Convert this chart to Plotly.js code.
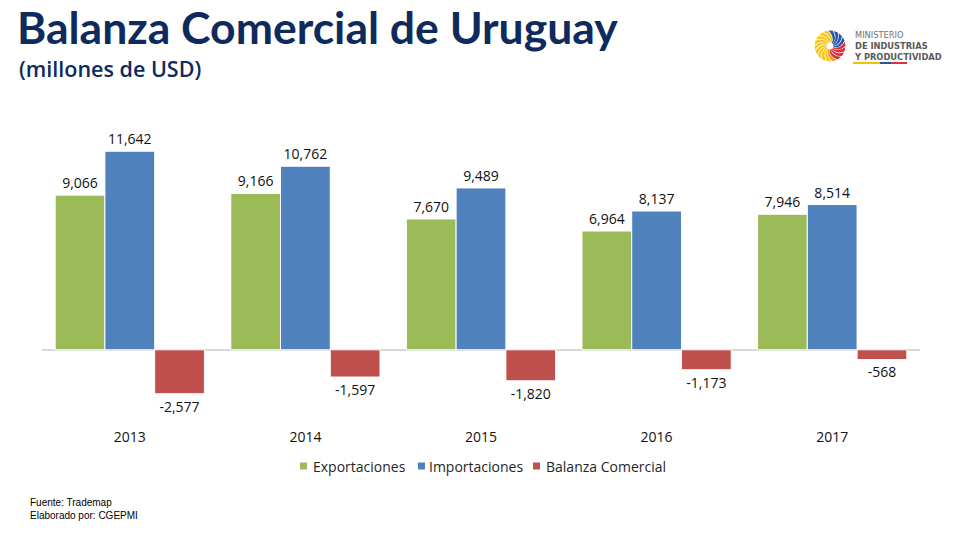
<!DOCTYPE html>
<html>
<head>
<meta charset="utf-8">
<script src="https://cdn.plot.ly/plotly-3.0.1.min.js"></script>
<style>html,body{margin:0;padding:0;background:#fff;}#chart{width:960px;height:540px;}</style>
</head>
<body>
<div id="chart"></div>
<script>
const years = ['2013', '2014', '2015', '2016', '2017'];
const exportaciones = [9066, 9166, 7670, 6964, 7946];
const importaciones = [11642, 10762, 9489, 8137, 8514];
const balanza = [-2577, -1597, -1820, -1173, -568];
const seriesNames = ['Exportaciones', 'Importaciones', 'Balanza Comercial'];
const seriesColors = ['#9bbb59', '#4f81bd', '#c0504d'];

const W = 960, H = 540;
const L = 42, R = 920, T = 111, B = 418;
const px = x => (x - L) / (R - L);
const py = y => (B - y) / (B - T);

const fmt = v => v.toLocaleString('en-US');
const labelFont = {family: 'Open Sans', size: 14, color: '#111111'};

function barTrace(vals, i) {
  return {
    type: 'bar', x: years, y: vals, name: seriesNames[i],
    marker: {color: seriesColors[i], line: {color: '#ffffff', width: 1}},
    text: vals.map(fmt), textposition: 'outside', textfont: labelFont,
    cliponaxis: false, constraintext: 'none', hoverinfo: 'skip', showlegend: false
  };
}
const data = [barTrace(exportaciones, 0), barTrace(importaciones, 1), barTrace(balanza, 2)];

const shapes = [];
const annotations = [];

// legend (compact, as in the reference)
const legendSquareX = [300, 418, 533];
const legendTextX = [311, 427, 544];
seriesNames.forEach((name, i) => {
  shapes.push({type: 'rect', xref: 'paper', yref: 'paper', x0: px(legendSquareX[i]), x1: px(legendSquareX[i] + 7),
    y0: py(469.5), y1: py(462.5), fillcolor: seriesColors[i], line: {width: 0}});
  annotations.push({text: name, xref: 'paper', yref: 'paper', x: px(legendTextX[i]), y: py(466),
    xanchor: 'left', yanchor: 'middle', showarrow: false,
    font: {family: 'Open Sans', size: 14, color: '#262626'}});
});

// logo emblem (pinwheel) built from pixel geometry
const cx = 830, cy = 46, r0 = 3.5, R0 = 15.5, n = 18;
function petalColor(deg) {
  const d = ((deg % 360) + 360) % 360;
  if (d >= 5 && d < 85) return '#2b54a6';
  if (d >= 290 || d < 5) return '#d8323a';
  if (d >= 255 && d < 290) return '#f0a020';
  return '#f7c81e';
}
for (let i = 0; i < n; i++) {
  const a = i * 360 / n;
  const step = 360 / n;
  const rad = d => d * Math.PI / 180;
  const p = (r, d) => [cx + r * Math.cos(rad(d)), cy - r * Math.sin(rad(d))];
  const p1 = p(r0, a), p2 = p(R0, a + 40), p3 = p(R0, a + 40 + step * 0.8), p4 = p(r0, a + step * 0.8);
  const c1 = p(R0 * 0.7, a + 8), c2 = p(R0 * 0.7, a + 8 + step * 0.8);
  const P = q => px(q[0]).toFixed(5) + ',' + py(q[1]).toFixed(5);
  shapes.push({
    type: 'path', xref: 'paper', yref: 'paper', layer: 'above',
    path: 'M' + P(p1) + ' Q' + P(c1) + ' ' + P(p2) + ' L' + P(p3) + ' Q' + P(c2) + ' ' + P(p4) + ' Z',
    fillcolor: petalColor(a + 30), line: {width: 0}
  });
}
// logo underline
[['#f2c200', 853, 880], ['#2b54a6', 880, 891], ['#d8323a', 891, 907]].forEach(s => {
  shapes.push({type: 'rect', xref: 'paper', yref: 'paper', x0: px(s[1]), x1: px(s[2]),
    y0: py(64), y1: py(62), fillcolor: s[0], line: {width: 0}});
});

annotations.push(
  {text: '(millones de USD)', xref: 'paper', yref: 'paper', x: px(17), y: py(69), xanchor: 'left', yanchor: 'middle',
   showarrow: false, font: {family: 'Open Sans', size: 21.5, weight: 600, color: '#0f2a5c'}},
  {text: '<span style="color:#707070">MINISTERIO</span><br><b>DE INDUSTRIAS</b><br><b>Y PRODUCTIVIDAD</b>',
   xref: 'paper', yref: 'paper', x: px(852), y: py(46), xanchor: 'left', yanchor: 'middle', align: 'left',
   showarrow: false, font: {family: 'DejaVu Sans', size: 8.3, color: '#5a5a5a'}},
  {text: 'Fuente: Trademap<br>Elaborado por: CGEPMI', xref: 'paper', yref: 'paper', x: px(28), y: py(508.5),
   xanchor: 'left', yanchor: 'middle', align: 'left',
   showarrow: false, font: {family: 'Liberation Sans', size: 10, color: '#000000'}}
);

const layout = {
  width: W, height: H,
  margin: {l: L, r: W - R, t: T, b: H - B, pad: 0},
  paper_bgcolor: '#ffffff', plot_bgcolor: '#ffffff',
  title: {text: 'Balanza Comercial de Uruguay', x: 17 / W, xanchor: 'left', xref: 'container',
    y: 1 - 28 / H, yanchor: 'middle', yref: 'container',
    font: {family: 'Lato', size: 44.5, weight: 700, color: '#0f2a5c'}},
  barmode: 'group', bargap: 0.15, bargroupgap: 0,
  xaxis: {type: 'category', showgrid: false, showline: false, ticks: '', zeroline: false,
    tickfont: {family: 'Open Sans', size: 14, color: '#111111'}, ticklabelstandoff: 9, fixedrange: true},
  yaxis: {range: [-4000, 14000], showgrid: false, showticklabels: false, ticks: '', showline: false,
    zeroline: true, zerolinecolor: '#d9d9d9', zerolinewidth: 1.5, fixedrange: true},
  showlegend: false,
  shapes: shapes,
  annotations: annotations
};

Plotly.newPlot('chart', data, layout, {displayModeBar: false, staticPlot: true});
</script>
</body>
</html>
